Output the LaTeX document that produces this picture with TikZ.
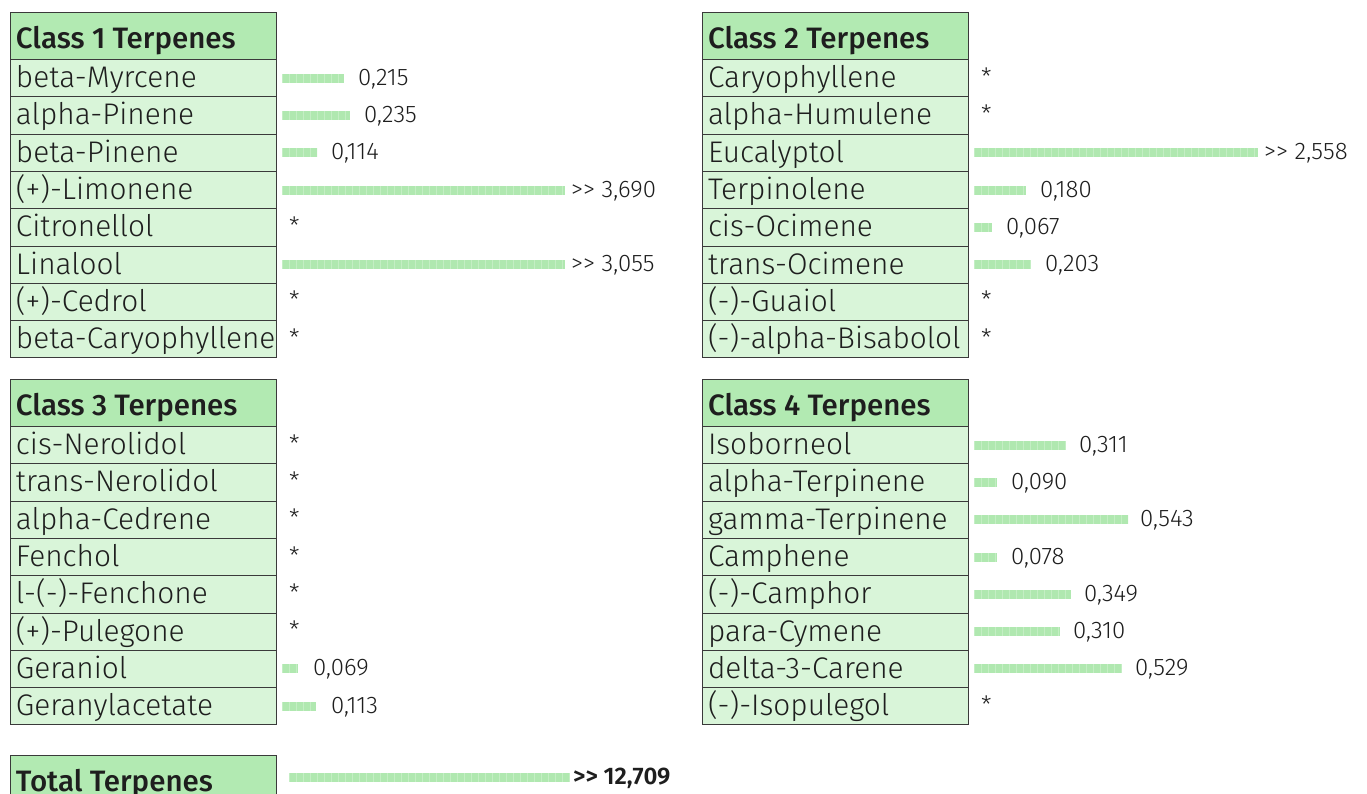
\documentclass[tikz,border=0pt]{standalone}
\usepackage{fontspec}
\IfFontExistsTF{Fira Sans Light}{\setmainfont{Fira Sans Light}}{\setmainfont{Fira Sans}}
\IfFontExistsTF{Fira Sans Medium}{\newfontfamily\hdfont{Fira Sans Medium}}{\newcommand\hdfont{\bfseries}}
\IfFontExistsTF{Fira Sans SemiBold}{\newfontfamily\totfont{Fira Sans SemiBold}}{\newcommand\totfont{\bfseries}}
\definecolor{hdgreen}{HTML}{B2EAB2}
\definecolor{rowgreen}{HTML}{D9F5D9}
\definecolor{barc}{HTML}{B0E8B0}
\definecolor{edge}{HTML}{3A3A3A}
\definecolor{ink}{HTML}{1E1E1E}
\tikzset{
  cellbase/.style={draw=edge, line width=1pt, anchor=north west, minimum width=266pt,
    inner xsep=5pt, inner ysep=0pt, text=ink},
  hdcell/.style={cellbase, fill=hdgreen, minimum height=47pt, text height=31pt, text depth=6pt,
    font=\hdfont\fontsize{29.5}{32}\selectfont},
  rowcell/.style={cellbase, fill=rowgreen, minimum height=37.3pt, text height=26pt, text depth=7pt,
    font=\fontsize{29.8}{32}\selectfont},
  vallabel/.style={anchor=base west, inner sep=0pt, text=ink, font=\fontsize{24}{26}\selectfont},
  barline/.style={draw=barc, line width=9pt},
  barstripe/.style={draw=barc!75!white, line width=9pt, dash pattern=on 0.7pt off 6.3pt},
}
\newcommand\terptable[5]{%
  \node[hdcell] (#1h) at (#2,#3) {\makebox[255pt][l]{#4}};
  \foreach \nm/\len/\val/\gap [count=\i] in {#5} {
    \node[rowcell] (#1r\i) at (#2,{#3+47+(\i-1)*37.3}) {\makebox[255pt][l]{\nm}};
    \coordinate (#1b\i) at ([xshift=5pt]#1r\i.east);
    \ifnum\len>0
      \draw[barline] (#1b\i) -- ++(\len,0);
      \draw[barstripe] (#1b\i) -- ++(\len,0);
    \fi
    \node[vallabel] (#1v\i) at ([xshift={\len+\gap}, yshift=-7pt]#1b\i) {\val};
  }
}
\begin{document}
\begin{tikzpicture}[x=1pt,y=-1pt]
\useasboundingbox (0,0) rectangle (1367,793);
\begin{scope}
\clip (0,0) rectangle (1367,793);
\fill[white] (0,0) rectangle (1367,793);

\terptable{a}{10}{12}{Class 1 Terpenes}{%
  beta-Myrcene/62/{0,215}/14,
  alpha-Pinene/68/{0,235}/14,
  beta-Pinene/35/{0,114}/14,
  (+)-Limonene/283/{>\kern0pt> 3,690}/6,
  Citronellol/0/*/7,
  Linalool/283/{>\kern0pt> 3,055}/6,
  (+)-Cedrol/0/*/7,
  beta-Caryophyllene/0/*/7}

\terptable{b}{702}{12}{Class 2 Terpenes}{%
  Caryophyllene/0/*/7,
  alpha-Humulene/0/*/7,
  Eucalyptol/284/{>\kern0pt> 2,558}/6,
  Terpinolene/52/{0,180}/14,
  cis-Ocimene/18/{0,067}/14,
  trans-Ocimene/57/{0,203}/14,
  (-)-Guaiol/0/*/7,
  (-)-alpha-Bisabolol/0/*/7}

\terptable{c}{10}{379}{Class 3 Terpenes}{%
  cis-Nerolidol/0/*/7,
  trans-Nerolidol/0/*/7,
  alpha-Cedrene/0/*/7,
  Fenchol/0/*/7,
  l-(-)-Fenchone/0/*/7,
  (+)-Pulegone/0/*/7,
  Geraniol/16/{0,069}/15,
  Geranylacetate/34/{0,113}/15}

\terptable{d}{702}{379}{Class 4 Terpenes}{%
  Isoborneol/92/{0,311}/13,
  alpha-Terpinene/23/{0,090}/14,
  gamma-Terpinene/154/{0,543}/12,
  Camphene/23/{0,078}/14,
  (-)-Camphor/97/{0,349}/13,
  para-Cymene/86/{0,310}/13,
  delta-3-Carene/148/{0,529}/13,
  (-)-Isopulegol/0/*/7}

\node[hdcell] (tot) at (10,755) {\makebox[255pt][l]{Total Terpenes}};
\coordinate (totb) at ([xshift=12pt, yshift=1.5pt]tot.east);
\draw[barline] (totb) -- ++(281,0);
\draw[barstripe] (totb) -- ++(281,0);
\node[vallabel, font=\totfont\fontsize{24}{26}\selectfont] (totv) at ([xshift=284pt, yshift=-7pt]totb) {>\kern0pt> 12,709};
\end{scope}
\end{tikzpicture}
\end{document}
